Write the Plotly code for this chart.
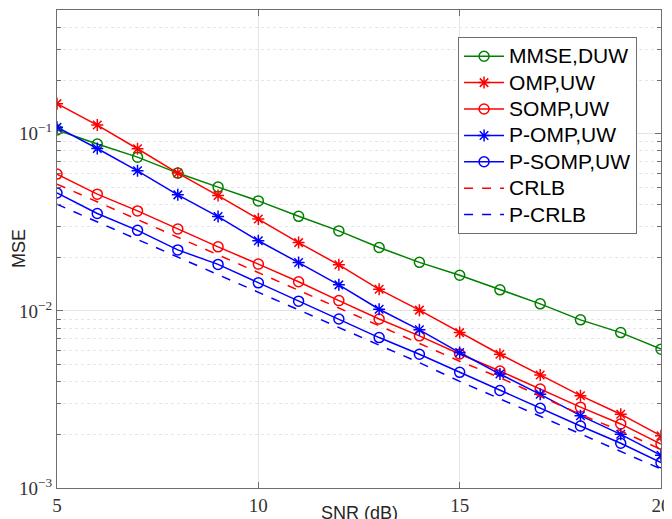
import plotly.graph_objects as go

snr = list(range(5, 21))

mmse_duw = [0.105, 0.0875, 0.0738, 0.060, 0.050, 0.0418, 0.0342, 0.0283, 0.0228, 0.0188,
            0.0159, 0.01315, 0.01096, 0.0089, 0.00754, 0.00608]
omp_uw = [0.148, 0.112, 0.0823, 0.060, 0.0448, 0.033, 0.0243, 0.0182, 0.01324, 0.0101,
          0.00754, 0.00569, 0.00435, 0.00332, 0.00261, 0.00197]
somp_uw = [0.0592, 0.0456, 0.0367, 0.029, 0.0230, 0.01837, 0.0146, 0.01143, 0.0090, 0.00723,
           0.00571, 0.00458, 0.00362, 0.00286, 0.0023, 0.00177]
pomp_uw = [0.109, 0.0826, 0.0618, 0.0452, 0.0341, 0.0249, 0.01875, 0.01403, 0.01022, 0.00782,
           0.00582, 0.0044, 0.00338, 0.00256, 0.00201, 0.00153]
psomp_uw = [0.0463, 0.0355, 0.0285, 0.0221, 0.0183, 0.0144, 0.01135, 0.0090, 0.00707, 0.00569,
            0.0045, 0.00355, 0.00282, 0.00224, 0.00179, 0.00139]
crlb = [0.052, 0.0413, 0.0328, 0.0261, 0.0207, 0.0165, 0.0131, 0.0104, 0.0083, 0.0066,
        0.0052, 0.0042, 0.0033, 0.0026, 0.0021, 0.00165]
pcrlb = [0.040, 0.0318, 0.0253, 0.0201, 0.0160, 0.0127, 0.0101, 0.0080, 0.0064, 0.0051,
         0.0040, 0.0032, 0.00254, 0.00202, 0.0016, 0.00128]

x_ticks = [5, 10, 15, 20]
y_ticks = [1e-3, 1e-2, 1e-1]
y_ticktext = ["10<sup>\u22123</sup>", "10<sup>\u22122</sup>", "10<sup>\u22121</sup>"]
y_minor = [m * d for d in (1e-3, 1e-2, 1e-1) for m in range(2, 10) if m * d <= 0.5]

GREEN = "#008000"
RED = "#ff0000"
BLUE = "#0000ff"

series = [
    ("MMSE,DUW", mmse_duw, GREEN, "circle-open", "solid"),
    ("OMP,UW", omp_uw, RED, "asterisk-open", "solid"),
    ("SOMP,UW", somp_uw, RED, "circle-open", "solid"),
    ("P-OMP,UW", pomp_uw, BLUE, "asterisk-open", "solid"),
    ("P-SOMP,UW", psomp_uw, BLUE, "circle-open", "solid"),
    ("CRLB", crlb, RED, None, "dash"),
    ("P-CRLB", pcrlb, BLUE, None, "dash"),
]


def legend_label(s):
    return '<span style="font-size:21px">' + s + "</span>"


fig = go.Figure()
for name, vals, color, sym, dash in series:
    if sym:
        fig.add_trace(go.Scatter(
            x=snr, y=vals, name=legend_label(name), mode="lines+markers",
            line=dict(color=color, width=1.5, dash=dash),
            marker=dict(symbol=sym, size=10, color=color, line=dict(color=color, width=1.5)),
        ))
    else:
        fig.add_trace(go.Scatter(
            x=snr, y=vals, name=legend_label(name), mode="lines",
            line=dict(color=color, width=1.5, dash=dash),
        ))

axis_col = "#6e6e6e"
grid_col = "#e3e3e3"

# page has an 8px body margin, so the figure is sized and placed to compensate
fig.update_layout(
    width=664, height=511,
    margin=dict(l=49, r=11, t=2, b=31, autoexpand=False),
    paper_bgcolor="white", plot_bgcolor="white",
    showlegend=True,
    legend=dict(
        x=0.664, y=0.9435, xanchor="left", yanchor="top",
        bgcolor="white", bordercolor="#6e6e6e", borderwidth=1,
        font=dict(family="Liberation Sans, Arial", size=18, color="black"),
        itemwidth=40, tracegroupgap=0,
    ),
    xaxis=dict(
        range=[5, 20], tickvals=x_ticks, ticktext=[str(v) for v in x_ticks],
        showline=True, linecolor=axis_col, linewidth=1, mirror="ticks",
        ticks="inside", ticklen=6, tickcolor=axis_col,
        showgrid=True, gridcolor=grid_col, gridwidth=1, zeroline=False,
        tickfont=dict(family="Liberation Serif, Times New Roman", size=19, color="#333333"),
        ticklabelstandoff=0, automargin=False,
    ),
    yaxis=dict(
        type="log", range=[-3, -0.30103],
        tickvals=y_ticks, ticktext=y_ticktext,
        showline=True, linecolor=axis_col, linewidth=1, mirror="ticks",
        ticks="inside", ticklen=6, tickcolor=axis_col,
        showgrid=True, gridcolor=grid_col, gridwidth=1, zeroline=False,
        tickfont=dict(family="Liberation Serif, Times New Roman", size=19, color="#333333"),
        automargin=False,
        minor=dict(tickvals=y_minor, ticks="inside", ticklen=4, tickcolor=axis_col,
                   showgrid=True, gridcolor="#e6e6e6", griddash="dot", gridwidth=1),
    ),
    annotations=[
        dict(text="SNR (dB)", xref="paper", yref="paper", x=0.5, y=0, yshift=-13,
             xanchor="center", yanchor="top", showarrow=False,
             font=dict(family="Liberation Sans, Arial", size=18, color="#262626")),
        dict(text="MSE", xref="paper", yref="paper", x=0, y=0.5, xshift=-38,
             xanchor="center", yanchor="middle", textangle=-90, showarrow=False,
             font=dict(family="Liberation Sans, Arial", size=18, color="#262626")),
    ],
)

fig.write_html("out.html")
